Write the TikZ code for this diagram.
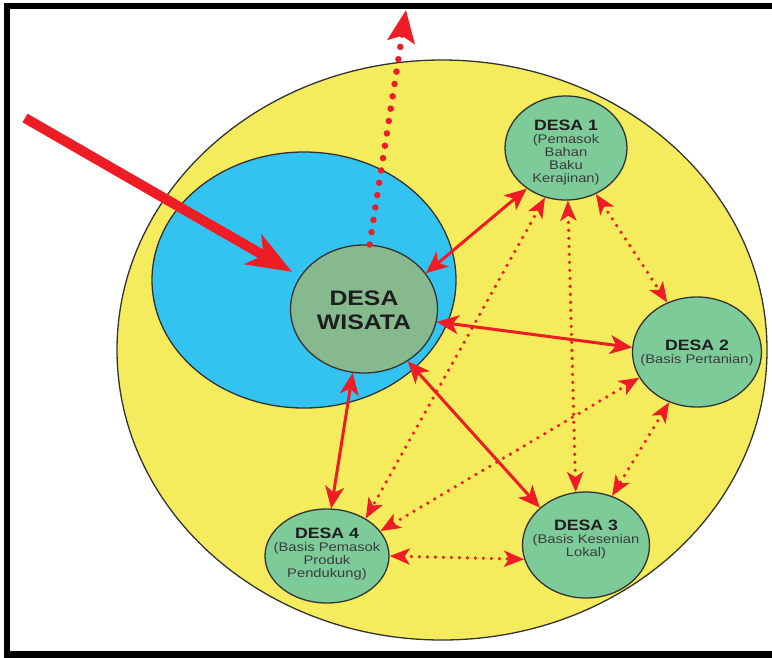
\documentclass[tikz,border=0pt]{standalone}
\usepackage{fontspec}
\setmainfont{Liberation Sans}
\newfontfamily\widesans[FakeStretch=1.18]{Liberation Sans}
\usetikzlibrary{arrows.meta,shapes.geometric}

\definecolor{zoneyellow}{HTML}{F4EC5C}
\definecolor{zoneblue}{HTML}{33C3F0}
\definecolor{hubgreen}{HTML}{86B98E}
\definecolor{villagegreen}{HTML}{7ECB9A}
\definecolor{linkred}{HTML}{EE1C25}
\definecolor{edgegray}{HTML}{333333}
\definecolor{titleink}{HTML}{1E1E1E}
\definecolor{noteink}{HTML}{3C3C3C}

\tikzset{
  zone/.style={ellipse, draw=edgegray, line width=1.3pt, inner sep=0pt},
  village/.style={zone, fill=villagegreen},
  villagetext/.style={align=center, inner sep=0pt, text=noteink,
    font=\widesans\fontsize{12.5}{13}\selectfont},
  link/.style={draw=linkred, line width=3pt, {Stealth[length=22pt, width=19pt, inset=6pt]}-{Stealth[length=22pt, width=19pt, inset=6pt]}},
  dotlink/.style={draw=linkred, line width=3.6pt, line cap=round,
    dash pattern=on 0pt off 8pt,
    {Stealth[length=20pt, width=16pt, inset=5pt]}-{Stealth[length=20pt, width=16pt, inset=5pt]}},
}
\newcommand{\vname}[1]{{\color{titleink}\bfseries\fontsize{15}{15}\selectfont #1}}

\begin{document}
\begin{tikzpicture}[x=1pt, y=-1pt]
  \useasboundingbox (0,0) rectangle (772,657);
  \clip (0,0) rectangle (772,657);
  \fill[white] (0,0) rectangle (772,657);

  % frame
  \draw[line width=6.5pt, line join=miter] (780,6.2) -- (7.2,6.2) -- (7.2,654.5) -- (780,654.5);

  % zones
  \node[zone, fill=zoneyellow, minimum width=650pt, minimum height=580pt] (outer) at (442,350) {};
  \node[zone, fill=zoneblue, minimum width=304pt, minimum height=256pt] (inner) at (304,280) {};

  % central village
  \node[zone, fill=hubgreen, minimum width=147pt, minimum height=128pt] (w) at (364,309) {};
  \node[align=center, inner sep=0pt, text=titleink,
        font=\widesans\bfseries\fontsize{21}{24}\selectfont] (wt) at (364,310) {DESA\\WISATA};

  % surrounding villages
  \node[village, minimum width=122pt, minimum height=104pt] (d1) at (566,148) {};
  \node[villagetext] (d1t) at (566,153) {\vname{DESA 1}\\(Pemasok\\Bahan\\Baku\\Kerajinan)};

  \node[village, minimum width=129pt, minimum height=110pt] (d2) at (697,352) {};
  \node[villagetext] (d2t) at (697,353) {\vname{DESA 2}\\(Basis Pertanian)};

  \node[village, minimum width=127pt, minimum height=106pt] (d3) at (586,545) {};
  \node[villagetext] (d3t) at (586,540) {\vname{DESA 3}\\(Basis Kesenian\\Lokal)};

  \node[village, minimum width=124pt, minimum height=94pt] (d4) at (327,556) {};
  \node[villagetext] (d4t) at (327,554) {\vname{DESA 4}\\(Basis Pemasok\\Produk\\Pendukung)};

  % links from the tourism village
  \draw[link] (w.30) -- (d1.226);
  \draw[link] (w.-10) -- (d2.176);
  \draw[link] (w.260) -- (d4.85);
  \draw[link] (w.310) -- (d3.141);

  % links between villages
  \draw[dotlink] (d1.303) -- (d2.121);
  \draw[dotlink] (d1.272) -- (d3.101);
  \draw[dotlink] (d1.247) -- (d4.44);
  \draw[dotlink] (d2.204) -- (d4.25);
  \draw[dotlink] (d2.241) -- (d3.62);
  \draw[dotlink] (d4.0) -- (d3.193);

  % inflow and outflow
  \coordinate (entry) at (25,118);
  \coordinate (exit) at (406,10);
  \draw[draw=linkred, line width=10pt, shorten >=9pt,
        -{Stealth[length=45pt, width=34pt, inset=12pt]}] (entry) -- (w.153);
  \draw[draw=linkred, line width=6.5pt, line cap=round, dash pattern=on 0pt off 12.5pt,
        -{Stealth[length=32pt, width=27pt, inset=6pt]}] (w.85) -- (exit);
\end{tikzpicture}
\end{document}
